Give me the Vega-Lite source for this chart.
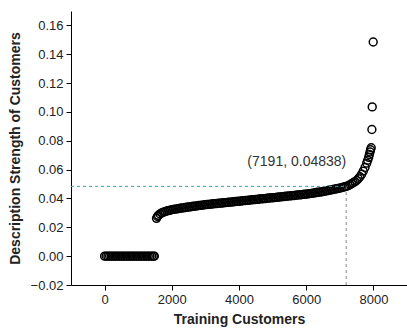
{
  "$schema": "https://vega.github.io/schema/vega-lite/v6.json",
  "width": 336,
  "height": 274,
  "autosize": {"type": "none"},
  "padding": {"left": 71, "top": 11, "right": 0, "bottom": 44},
  "background": "white",
  "config": {
    "view": {"stroke": null},
    "font": "Liberation Sans",
    "axis": {"grid": false, "domainColor": "black", "tickColor": "black", "labelColor": "#222", "titleColor": "#222", "labelFont": "Liberation Sans", "titleFont": "Liberation Sans", "labelFlush": false}
  },
  "datasets": {
    "customers": [
      {"customer": 0, "strength": 0}, {"customer": 50, "strength": 0}, {"customer": 100, "strength": 0}, {"customer": 150, "strength": 0},
      {"customer": 200, "strength": 0}, {"customer": 250, "strength": 0}, {"customer": 300, "strength": 0}, {"customer": 350, "strength": 0},
      {"customer": 400, "strength": 0}, {"customer": 450, "strength": 0}, {"customer": 500, "strength": 0}, {"customer": 550, "strength": 0},
      {"customer": 600, "strength": 0}, {"customer": 650, "strength": 0}, {"customer": 700, "strength": 0}, {"customer": 750, "strength": 0},
      {"customer": 800, "strength": 0}, {"customer": 850, "strength": 0}, {"customer": 900, "strength": 0}, {"customer": 950, "strength": 0},
      {"customer": 1000, "strength": 0}, {"customer": 1050, "strength": 0}, {"customer": 1100, "strength": 0}, {"customer": 1150, "strength": 0},
      {"customer": 1200, "strength": 0}, {"customer": 1250, "strength": 0}, {"customer": 1300, "strength": 0}, {"customer": 1350, "strength": 0},
      {"customer": 1400, "strength": 0}, {"customer": 1450, "strength": 0}, {"customer": 1480, "strength": 0},
      {"customer": 1545, "strength": 0.0262}, {"customer": 1575, "strength": 0.0275}, {"customer": 1600, "strength": 0.0283}, {"customer": 1650, "strength": 0.0293},
      {"customer": 1700, "strength": 0.0300}, {"customer": 1750, "strength": 0.0305}, {"customer": 1800, "strength": 0.0309}, {"customer": 1850, "strength": 0.0313},
      {"customer": 1900, "strength": 0.0316}, {"customer": 1950, "strength": 0.0319}, {"customer": 2000, "strength": 0.0322}, {"customer": 2050, "strength": 0.0324},
      {"customer": 2100, "strength": 0.0326}, {"customer": 2150, "strength": 0.0328}, {"customer": 2200, "strength": 0.0330}, {"customer": 2250, "strength": 0.0332},
      {"customer": 2300, "strength": 0.0334}, {"customer": 2350, "strength": 0.0335}, {"customer": 2400, "strength": 0.0337}, {"customer": 2450, "strength": 0.0339},
      {"customer": 2500, "strength": 0.0341}, {"customer": 2550, "strength": 0.0342}, {"customer": 2600, "strength": 0.0344}, {"customer": 2650, "strength": 0.0346},
      {"customer": 2700, "strength": 0.0347}, {"customer": 2750, "strength": 0.0349}, {"customer": 2800, "strength": 0.0351}, {"customer": 2850, "strength": 0.0352},
      {"customer": 2900, "strength": 0.0354}, {"customer": 2950, "strength": 0.0355}, {"customer": 3000, "strength": 0.0357}, {"customer": 3050, "strength": 0.0358},
      {"customer": 3100, "strength": 0.0359}, {"customer": 3150, "strength": 0.0361}, {"customer": 3200, "strength": 0.0362}, {"customer": 3250, "strength": 0.0363},
      {"customer": 3300, "strength": 0.0364}, {"customer": 3350, "strength": 0.0365}, {"customer": 3400, "strength": 0.0367}, {"customer": 3450, "strength": 0.0368},
      {"customer": 3500, "strength": 0.0369}, {"customer": 3550, "strength": 0.0370}, {"customer": 3600, "strength": 0.0371}, {"customer": 3650, "strength": 0.0373},
      {"customer": 3700, "strength": 0.0374}, {"customer": 3750, "strength": 0.0375}, {"customer": 3800, "strength": 0.0376}, {"customer": 3850, "strength": 0.0377},
      {"customer": 3900, "strength": 0.0379}, {"customer": 3950, "strength": 0.0380}, {"customer": 4000, "strength": 0.0381}, {"customer": 4050, "strength": 0.0382},
      {"customer": 4100, "strength": 0.0384}, {"customer": 4150, "strength": 0.0385}, {"customer": 4200, "strength": 0.0386}, {"customer": 4250, "strength": 0.0387},
      {"customer": 4300, "strength": 0.0388}, {"customer": 4350, "strength": 0.0390}, {"customer": 4400, "strength": 0.0391}, {"customer": 4450, "strength": 0.0392},
      {"customer": 4500, "strength": 0.0393}, {"customer": 4550, "strength": 0.0394}, {"customer": 4600, "strength": 0.0396}, {"customer": 4650, "strength": 0.0397},
      {"customer": 4700, "strength": 0.0398}, {"customer": 4750, "strength": 0.0399}, {"customer": 4800, "strength": 0.0400}, {"customer": 4850, "strength": 0.0402},
      {"customer": 4900, "strength": 0.0403}, {"customer": 4950, "strength": 0.0404}, {"customer": 5000, "strength": 0.0405}, {"customer": 5050, "strength": 0.0406},
      {"customer": 5100, "strength": 0.0408}, {"customer": 5150, "strength": 0.0409}, {"customer": 5200, "strength": 0.0410}, {"customer": 5250, "strength": 0.0411},
      {"customer": 5300, "strength": 0.0413}, {"customer": 5350, "strength": 0.0414}, {"customer": 5400, "strength": 0.0415}, {"customer": 5450, "strength": 0.0416},
      {"customer": 5500, "strength": 0.0418}, {"customer": 5550, "strength": 0.0419}, {"customer": 5600, "strength": 0.0420}, {"customer": 5650, "strength": 0.0421},
      {"customer": 5700, "strength": 0.0423}, {"customer": 5750, "strength": 0.0424}, {"customer": 5800, "strength": 0.0425}, {"customer": 5850, "strength": 0.0426},
      {"customer": 5900, "strength": 0.0428}, {"customer": 5950, "strength": 0.0429}, {"customer": 6000, "strength": 0.0430}, {"customer": 6050, "strength": 0.0432},
      {"customer": 6100, "strength": 0.0434}, {"customer": 6150, "strength": 0.0435}, {"customer": 6200, "strength": 0.0437}, {"customer": 6250, "strength": 0.0439},
      {"customer": 6300, "strength": 0.0441}, {"customer": 6350, "strength": 0.0443}, {"customer": 6400, "strength": 0.0444}, {"customer": 6450, "strength": 0.0446},
      {"customer": 6500, "strength": 0.0448}, {"customer": 6550, "strength": 0.0450}, {"customer": 6600, "strength": 0.0453}, {"customer": 6650, "strength": 0.0455},
      {"customer": 6700, "strength": 0.0458}, {"customer": 6750, "strength": 0.0460}, {"customer": 6800, "strength": 0.0462}, {"customer": 6850, "strength": 0.0465},
      {"customer": 6900, "strength": 0.0467}, {"customer": 6950, "strength": 0.0470}, {"customer": 7000, "strength": 0.0472}, {"customer": 7050, "strength": 0.0475},
      {"customer": 7100, "strength": 0.0478}, {"customer": 7150, "strength": 0.0481}, {"customer": 7191, "strength": 0.04838}, {"customer": 7250, "strength": 0.0489},
      {"customer": 7300, "strength": 0.0495}, {"customer": 7350, "strength": 0.0502}, {"customer": 7400, "strength": 0.0509}, {"customer": 7450, "strength": 0.0517},
      {"customer": 7500, "strength": 0.0525}, {"customer": 7550, "strength": 0.0537}, {"customer": 7600, "strength": 0.0551}, {"customer": 7650, "strength": 0.0568},
      {"customer": 7700, "strength": 0.0590}, {"customer": 7750, "strength": 0.0615}, {"customer": 7800, "strength": 0.0645}, {"customer": 7830, "strength": 0.0665},
      {"customer": 7860, "strength": 0.0685}, {"customer": 7880, "strength": 0.0705}, {"customer": 7900, "strength": 0.0722}, {"customer": 7915, "strength": 0.0738},
      {"customer": 7935, "strength": 0.0752}, {"customer": 7955, "strength": 0.0878}, {"customer": 7965, "strength": 0.1035}, {"customer": 7994, "strength": 0.1485}
    ],
    "marker": [{"customer": 7191, "strength": 0.04838, "xmin": -1000, "ymin": -0.02, "label": "(7191, 0.04838)", "lx": 5720, "ly": 0.065}]
  },
  "layer": [
    {
      "data": {"name": "customers"},
      "mark": {"type": "point", "shape": "circle", "filled": false, "stroke": "black", "strokeWidth": 1.5, "size": 62, "opacity": 1},
      "encoding": {
        "x": {"field": "customer", "type": "quantitative", "scale": {"domain": [-1000, 9000], "nice": false, "zero": false},
          "axis": {"orient": "bottom", "values": [0, 2000, 4000, 6000, 8000], "format": "d", "tickSize": 5,
            "labelFontSize": 13, "labelPadding": 3,
            "title": "Training Customers", "titleFontSize": 14, "titleFontWeight": "bold", "titlePadding": 6}},
        "y": {"field": "strength", "type": "quantitative", "scale": {"domain": [-0.02, 0.17], "nice": false, "zero": false},
          "axis": {"orient": "left", "values": [-0.02, 0, 0.02, 0.04, 0.06, 0.08, 0.1, 0.12, 0.14, 0.16], "format": ".2f", "tickSize": 5,
            "labelFontSize": 13, "labelPadding": 3,
            "title": "Description Strength of Customers", "titleFontSize": 14, "titleFontWeight": "bold", "titlePadding": 8}}
      }
    },
    {
      "data": {"name": "marker"},
      "mark": {"type": "rule", "color": "#888888", "strokeDash": [3, 3], "strokeWidth": 1},
      "encoding": {
        "x": {"field": "customer", "type": "quantitative", "axis": null},
        "y": {"field": "ymin", "type": "quantitative", "axis": null},
        "y2": {"field": "strength"}
      }
    },
    {
      "data": {"name": "marker"},
      "mark": {"type": "rule", "color": "#3aa3a8", "strokeDash": [3, 3], "strokeWidth": 1},
      "encoding": {
        "x": {"field": "xmin", "type": "quantitative", "axis": null},
        "x2": {"field": "customer"},
        "y": {"field": "strength", "type": "quantitative", "axis": null}
      }
    },
    {
      "data": {"name": "marker"},
      "mark": {"type": "text", "fontSize": 14, "color": "#333", "align": "center", "baseline": "middle"},
      "encoding": {
        "x": {"field": "lx", "type": "quantitative", "axis": null},
        "y": {"field": "ly", "type": "quantitative", "axis": null},
        "text": {"field": "label"}
      }
    }
  ],
  "resolve": {"axis": {"x": "independent", "y": "independent"}}
}
